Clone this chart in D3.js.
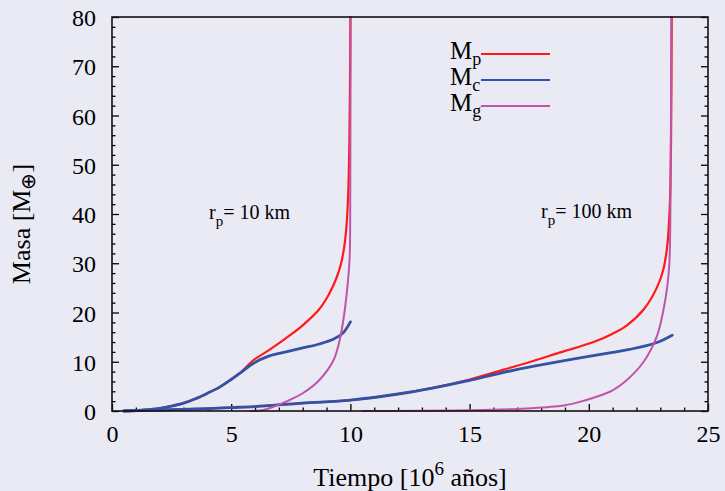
<!DOCTYPE html>
<html lang="es">
	<head>
		<meta charset="UTF-8" />
		<title>Masa vs Tiempo</title>
		<script src="https://d3js.org/d3.v7.min.js"></script>
		<style>
			html, body {
				margin: 0;
				padding: 0;
				background: #eaeaf5;
			}
			svg {
				display: block;
				background: #eaeaf5;
			}
			text {
				font-family: 'Liberation Serif', 'Times New Roman', serif;
				fill: #000;
			}
			.curve {
				fill: none;
				stroke-linejoin: round;
				stroke-linecap: round;
			}
		</style>
	</head>
	<body>
		<svg width="725" height="491"></svg>
		<script>
			// planetesimales de 10 km
			const t_mc10 = [0.5, 1.0, 1.5, 2.0, 2.5, 3.0, 3.5, 4.0, 4.5, 5.0, 5.4, 5.9, 6.6, 7.3, 8.0, 8.7, 9.3, 9.7, 10.0];
			const mc10 = [0.0, 0.1, 0.3, 0.55, 1.0, 1.6, 2.5, 3.6, 4.8, 6.4, 7.8, 9.6, 11.2, 12.0, 12.8, 13.6, 14.6, 15.9, 18.1];
			const t_mp10 = [0.5, 1.0, 1.5, 2.0, 2.5, 3.0, 3.5, 4.0, 4.5, 5.0, 5.4, 5.9, 6.6, 7.3, 8.0, 8.7, 9.1, 9.4, 9.6, 9.75, 9.85, 9.92, 9.96, 9.985, 10.0];
			const mp10 = [0.0, 0.1, 0.3, 0.55, 1.0, 1.6, 2.5, 3.6, 4.8, 6.4, 7.8, 10.2, 12.4, 14.8, 17.4, 20.7, 23.7, 26.8, 29.8, 33.6, 38.5, 46, 56, 68, 80];
			const t_mg10 = [5.8, 6.35, 6.8, 7.3, 8.0, 8.7, 9.3, 9.55, 9.75, 9.88, 9.95, 9.98, 9.995, 10.01];
			const mg10 = [0.0, 0.2, 0.9, 1.9, 3.6, 6.3, 10.4, 14.4, 20.0, 25.5, 29.5, 33, 45, 80];

			// planetesimales de 100 km
			const t_mc100 = [0.5, 2, 4, 5, 6, 8, 10, 12, 13.5, 15, 16.3, 17.7, 18.8, 20, 21.0, 21.7, 22.8, 23.5];
			const mc100 = [0.0, 0.2, 0.5, 0.7, 0.9, 1.6, 2.2, 3.45, 4.7, 6.2, 7.7, 9.1, 10.1, 11.1, 11.9, 12.5, 13.8, 15.4];
			const t_mp100 = [0.5, 2, 4, 5, 6, 8, 10, 12, 13.5, 15, 16.3, 17.7, 18.8, 20.2, 21.0, 21.6, 22.3, 22.85, 23.13, 23.3, 23.4, 23.45, 23.48];
			const mp100 = [0.0, 0.2, 0.5, 0.7, 0.9, 1.6, 2.2, 3.45, 4.75, 6.4, 8.2, 10.2, 11.9, 14.0, 15.7, 17.4, 20.6, 25.0, 28.8, 34, 42, 55, 80];
			const t_mg100 = [10.5, 13, 15, 17, 18, 18.8, 19.5, 20.2, 21.0, 21.6, 22.3, 22.85, 23.13, 23.29, 23.38, 23.43, 23.46];
			const mg100 = [0.0, 0.05, 0.15, 0.4, 0.7, 1.0, 1.7, 2.7, 4.2, 6.3, 10.0, 15.1, 20.5, 25.2, 30, 45, 80];

			const xTicks = [0, 5, 10, 15, 20, 25];
			const yTicks = [0, 10, 20, 30, 40, 50, 60, 70, 80];
			const legendSubs = ['p', 'c', 'g'];

			const colors = { p: '#ff1a1a', c: '#3352a3', g: '#c055a8' };
			const serif = "'Liberation Serif', 'Times New Roman', serif";

			const svg = d3.select('svg');
			const margin = { left: 112, right: 17, top: 17, bottom: 80 };
			const W = 725, H = 491;

			const x = d3.scaleLinear().domain([0, 25]).range([margin.left, W - margin.right]);
			const y = d3.scaleLinear().domain([0, 80]).range([H - margin.bottom, margin.top]);

			const zip = (ts, ms) => ts.map((t, i) => [t, ms[i]]);

			// minor ticks
			const minorX = d3.range(0, 26, 1).filter((v) => v % 5 !== 0);
			const minorY = d3.range(0, 81, 2).filter((v) => v % 10 !== 0);

			const axisG = svg.append('g');
			const bottom = axisG.append('g').attr('transform', `translate(0,${y(0)})`);
			bottom.call(d3.axisBottom(x).tickValues(xTicks).tickSize(-7).tickPadding(14).tickFormat(d3.format('d')));
			bottom.append('g').call(d3.axisBottom(x).tickValues(minorX).tickSize(-3.5).tickFormat(''));

			const left = axisG.append('g').attr('transform', `translate(${x(0)},0)`);
			left.call(d3.axisLeft(y).tickValues(yTicks).tickSize(-7).tickPadding(16).tickFormat(d3.format('d')));
			left.append('g').call(d3.axisLeft(y).tickValues(minorY).tickSize(-3.5).tickFormat(''));

			const right = axisG.append('g').attr('transform', `translate(${x(25)},0)`);
			right.call(d3.axisRight(y).tickValues(yTicks).tickSize(-7).tickFormat(''));
			right.append('g').call(d3.axisRight(y).tickValues(minorY).tickSize(-3.5).tickFormat(''));

			axisG.selectAll('g').attr('font-family', serif).attr('font-size', 24);
			axisG.selectAll('.domain').remove();
			axisG.selectAll('.tick line').attr('stroke', '#000').attr('stroke-width', 1.3);
			axisG.selectAll('.tick text')
				.style('font-family', serif)
				.style('font-size', '24px')
				.attr('fill', '#000');
			left.selectAll('.tick text').attr('dy', '0.36em');

			// curves
			const line = d3.line().x((d) => x(d[0])).y((d) => y(d[1])).curve(d3.curveCatmullRom.alpha(0.5));
			const plot = svg.append('g');
			const series = [
				{ d: zip(t_mp10, mp10), c: colors.p, w: 2.2 },
				{ d: zip(t_mp100, mp100), c: colors.p, w: 2.2 },
				{ d: zip(t_mc10, mc10), c: colors.c, w: 2.8 },
				{ d: zip(t_mc100, mc100), c: colors.c, w: 2.8 },
				{ d: zip(t_mg10, mg10), c: colors.g, w: 2.0 },
				{ d: zip(t_mg100, mg100), c: colors.g, w: 2.0 }
			];
			plot.selectAll('path')
				.data(series)
				.enter()
				.append('path')
				.attr('class', 'curve')
				.attr('d', (s) => line(s.d))
				.attr('stroke', (s) => s.c)
				.attr('stroke-width', (s) => s.w);

			// frame
			svg.append('rect')
				.attr('x', x(0))
				.attr('y', y(80))
				.attr('width', x(25) - x(0))
				.attr('height', y(0) - y(80))
				.attr('fill', 'none')
				.attr('stroke', '#111')
				.attr('stroke-width', 1.6);

			// legend
			const lg = svg.append('g');
			legendSubs.forEach((sub, i) => {
				const yy = 54 + i * 26;
				const t = lg.append('text').attr('x', 450).attr('y', yy + 5).style('font-size', '25px');
				t.append('tspan').text('M');
				t.append('tspan').attr('dy', 6).style('font-size', '18px').text(sub);
				lg.append('line')
					.attr('x1', 481).attr('x2', 550)
					.attr('y1', yy).attr('y2', yy)
					.attr('stroke', colors[sub])
					.attr('stroke-width', 2.2);
			});

			// annotations
			const notes = [
				{ x: 209, y: 219, txt: '= 10 km' },
				{ x: 541, y: 218, txt: '= 100 km' }
			];
			notes.forEach((n) => {
				const t = svg.append('text').attr('x', n.x).attr('y', n.y).style('font-size', '20px');
				t.append('tspan').text('r');
				t.append('tspan').attr('dy', 7).style('font-size', '15px').text('p');
				t.append('tspan').attr('dy', -7).text(n.txt);
			});

			// axis titles
			const xl = svg.append('text')
				.attr('x', 410)
				.attr('y', 486)
				.attr('text-anchor', 'middle')
				.style('font-size', '26px');
			xl.append('tspan').text('Tiempo [10');
			xl.append('tspan').attr('dy', -11).style('font-size', '19px').text('6');
			xl.append('tspan').attr('dy', 11).text(' años]');

			const yl = svg.append('text')
				.attr('transform', 'translate(30,224) rotate(-90)')
				.attr('text-anchor', 'middle')
				.style('font-size', '26px');
			yl.append('tspan').text('Masa [M');
			yl.append('tspan').attr('dy', 5).style('font-size', '20px').text('⊕');
			yl.append('tspan').attr('dy', -5).text(']');
		</script>
	</body>
</html>
